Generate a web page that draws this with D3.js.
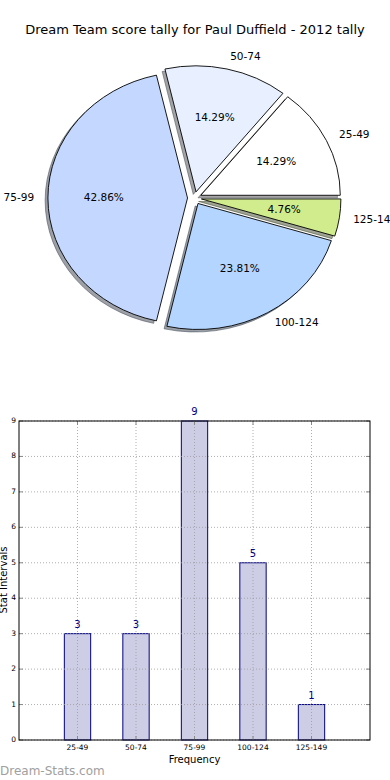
<!DOCTYPE html>
<html><head><meta charset="utf-8">
<script src="https://cdn.jsdelivr.net/npm/d3@7"></script>
<style>html,body{margin:0;padding:0;background:#fff;}svg{display:block;font-family:"DejaVu Sans",sans-serif;}</style>
</head><body>
<svg id="c" width="390" height="780"></svg>
<script>
const categories = ["25-49","50-74","75-99","100-124","125-149"];
const counts = [3,3,9,5,1];
const pctLabels = ["14.29%","14.29%","42.86%","23.81%","4.76%"];
const sliceColors = ["#ffffff","#e8f0ff","#c4d8ff","#b3d5ff","#d0ec8c"];
const yTicks = [0,1,2,3,4,5,6,7,8,9];
const title = "Dream Team score tally for Paul Duffield - 2012 tally";

const svg = d3.select("#c");
svg.append("text").attr("x",195).attr("y",30).attr("text-anchor","middle")
  .attr("dominant-baseline","middle").attr("font-size","13px").attr("fill","#000").text(title);

// ---- Pie (elliptical, exploded, shadowed) ----
const cx = 194.5, cy = 198, rx = 139.5, ry = 126, explode = 0.05;
const pie = d3.pie().sort(null).startAngle(Math.PI/2).endAngle(Math.PI/2 - 2*Math.PI);
const arcs = pie(counts);
const arcGen = d3.arc().innerRadius(0).outerRadius(1);
function off(a){ const m=(a.startAngle+a.endAngle)/2; return [Math.sin(m), -Math.cos(m)]; }
const pieG = svg.append("g");
// shadows
arcs.forEach((a,i)=>{
  const [ux,uy]=off(a);
  const c = d3.rgb(sliceColors[i]);
  const sc = d3.rgb(c.r*0.3,c.g*0.3,c.b*0.3);
  pieG.append("path")
    .attr("transform",`translate(${cx+ux*explode*rx-0.02*rx},${cy+uy*explode*ry+0.02*ry}) scale(${rx},${ry})`)
    .attr("d",arcGen(a)).attr("fill",sc).attr("fill-opacity",0.5)
    .attr("stroke",sc).attr("stroke-opacity",0.5).attr("stroke-width",1).attr("vector-effect","non-scaling-stroke");
});
arcs.forEach((a,i)=>{
  const [ux,uy]=off(a);
  pieG.append("path")
    .attr("transform",`translate(${cx+ux*explode*rx},${cy+uy*explode*ry}) scale(${rx},${ry})`)
    .attr("d",arcGen(a)).attr("fill",sliceColors[i])
    .attr("stroke","#000").attr("stroke-width",0.9).attr("vector-effect","non-scaling-stroke");
});
arcs.forEach((a,i)=>{
  const [ux,uy]=off(a);
  const ox = cx+ux*explode*rx, oy = cy+uy*explode*ry;
  pieG.append("text").attr("x",ox+ux*1.1*rx).attr("y",oy+uy*1.1*ry)
    .attr("text-anchor", ux>0?"start":"end").attr("dominant-baseline","middle")
    .attr("font-size","10.5px").attr("fill","#000").text(categories[i]);
  pieG.append("text").attr("x",ox+ux*0.6*rx).attr("y",oy+uy*0.6*ry)
    .attr("text-anchor","middle").attr("dominant-baseline","middle")
    .attr("font-size","10.5px").attr("fill","#000").text(pctLabels[i]);
});

// ---- Bar chart ----
const L=19, R=370, T=421, B=740;
const x = d3.scaleLinear().domain([0,6]).range([L,R]);
const y = d3.scaleLinear().domain([0,9]).range([B,T]);
const bw = 0.45;
const g = svg.append("g");
g.selectAll("rect.bar").data(counts).join("rect").attr("class","bar")
  .attr("x",(d,i)=>x(i+1-bw/2)).attr("width",x(bw)-x(0))
  .attr("y",d=>y(d)).attr("height",d=>B-y(d))
  .attr("fill","#cdcde6").attr("stroke","#000080").attr("stroke-width",1);
// grid
g.selectAll("line.hg").data(yTicks).join("line").attr("class","hg")
  .attr("x1",L).attr("x2",R).attr("y1",d=>y(d)).attr("y2",d=>y(d))
  .attr("stroke","#9a9a9a").attr("stroke-width",0.8).attr("stroke-dasharray","1,2");
g.selectAll("line.vg").data(categories).join("line").attr("class","vg")
  .attr("y1",T).attr("y2",B).attr("x1",(d,i)=>x(i+1)).attr("x2",(d,i)=>x(i+1))
  .attr("stroke","#9a9a9a").attr("stroke-width",0.8).attr("stroke-dasharray","1,2");
// ticks
yTicks.forEach(t=>{
  g.append("line").attr("x1",L).attr("x2",L+4).attr("y1",y(t)).attr("y2",y(t)).attr("stroke","#888");
  g.append("line").attr("x1",R-4).attr("x2",R).attr("y1",y(t)).attr("y2",y(t)).attr("stroke","#888");
});
categories.forEach((c,i)=>{
  g.append("line").attr("x1",x(i+1)).attr("x2",x(i+1)).attr("y1",B).attr("y2",B-4).attr("stroke","#888");
  g.append("line").attr("x1",x(i+1)).attr("x2",x(i+1)).attr("y1",T).attr("y2",T+4).attr("stroke","#888");
});
// frame
g.append("rect").attr("x",L).attr("y",T).attr("width",R-L).attr("height",B-T)
  .attr("fill","none").attr("stroke","#000").attr("stroke-width",1);
// tick labels
g.selectAll("text.yl").data(yTicks).join("text").attr("class","yl")
  .attr("x",16).attr("y",d=>y(d)).attr("text-anchor","end").attr("dominant-baseline","middle")
  .attr("font-size","7.5px").attr("fill","#000").text(d=>d);
g.selectAll("text.xl").data(categories).join("text").attr("class","xl")
  .attr("x",(d,i)=>x(i+1)).attr("y",748).attr("text-anchor","middle").attr("dominant-baseline","middle")
  .attr("font-size","7.5px").attr("fill","#000").text(d=>d);
// value labels
g.selectAll("text.vl").data(counts).join("text").attr("class","vl")
  .attr("x",(d,i)=>x(i+1)).attr("y",d=>y(d)-9).attr("text-anchor","middle").attr("dominant-baseline","middle")
  .attr("font-size","10px").attr("fill","#000080").text(d=>d);
// axis titles
svg.append("text").attr("x",194.5).attr("y",760).attr("text-anchor","middle").attr("dominant-baseline","middle")
  .attr("font-size","10px").attr("fill","#000").text("Frequency");
svg.append("text").attr("transform","translate(4,580) rotate(-90)").attr("text-anchor","middle")
  .attr("dominant-baseline","middle").attr("font-size","10px").attr("fill","#000").text("Stat Intervals");
// watermark
svg.append("text").attr("x",0).attr("y",775).attr("font-size","12px").attr("fill","#a0a0a0").text("Dream-Stats.com");
</script>
</body></html>
